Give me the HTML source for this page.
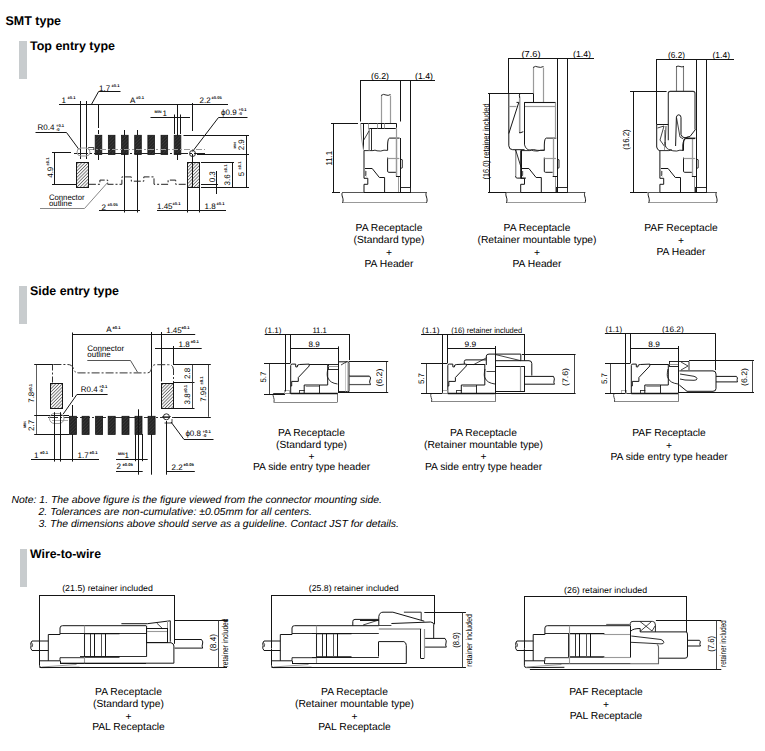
<!DOCTYPE html>
<html><head><meta charset="utf-8"><style>
html,body{margin:0;padding:0;background:#fff;width:765px;height:751px;overflow:hidden}
svg{display:block}
text{font-family:"Liberation Sans",sans-serif;text-rendering:geometricPrecision}
</style></head><body>
<svg width="765" height="751" viewBox="0 0 765 751">
<defs>
<pattern id="hatch" patternUnits="userSpaceOnUse" width="2.3" height="2.3" patternTransform="rotate(45)">
<rect width="2.3" height="2.3" fill="#f4f4f4"/><line x1="0" y1="0" x2="0" y2="2.3" stroke="#2a2a2a" stroke-width="1.05"/>
</pattern>
<pattern id="dark" patternUnits="userSpaceOnUse" width="2.4" height="2.4" patternTransform="rotate(45)">
<rect width="2.4" height="2.4" fill="#262626"/><line x1="0" y1="0" x2="0" y2="2.4" stroke="#4a4a4a" stroke-width="0.8"/>
</pattern>
</defs>
<rect x="19" y="41" width="8" height="38" fill="#c8ccce"/>
<rect x="19" y="286" width="8" height="38" fill="#c8ccce"/>
<rect x="20" y="549" width="7" height="38" fill="#c8ccce"/>
<text x="5.5" y="25.2" font-size="12.6" textLength="55.5" lengthAdjust="spacingAndGlyphs" font-weight="bold" fill="#000">SMT type</text>
<text x="30" y="50.3" font-size="12.5" textLength="85" lengthAdjust="spacingAndGlyphs" font-weight="bold" fill="#000">Top entry type</text>
<text x="30" y="295.2" font-size="12.5" textLength="89" lengthAdjust="spacingAndGlyphs" font-weight="bold" fill="#000">Side entry type</text>
<text x="30" y="558" font-size="12.5" textLength="71" lengthAdjust="spacingAndGlyphs" font-weight="bold" fill="#000">Wire-to-wire</text>
<line x1="59" y1="104.5" x2="228" y2="104.5" stroke="#151515" stroke-width="1"/>
<line x1="80.5" y1="101" x2="80.5" y2="159" stroke="#151515" stroke-width="1"/>
<line x1="86.5" y1="101" x2="86.5" y2="159" stroke="#151515" stroke-width="1"/>
<line x1="98.5" y1="104" x2="98.5" y2="128" stroke="#151515" stroke-width="1"/>
<line x1="98.5" y1="130" x2="98.5" y2="134" stroke="#151515" stroke-width="1"/>
<line x1="98.5" y1="155" x2="98.5" y2="160" stroke="#151515" stroke-width="1"/>
<line x1="177.5" y1="104" x2="177.5" y2="160" stroke="#151515" stroke-width="1"/>
<line x1="192.5" y1="103" x2="192.5" y2="131" stroke="#151515" stroke-width="1"/>
<polyline points="91.4,104.5 98.6,91.5 120.5,91.5" fill="none" stroke="#151515" stroke-width="1"/>
<line x1="150.5" y1="117.5" x2="190" y2="117.5" stroke="#151515" stroke-width="1"/>
<line x1="174.5" y1="114.5" x2="174.5" y2="134" stroke="#151515" stroke-width="1"/>
<line x1="180.5" y1="114.5" x2="180.5" y2="134" stroke="#151515" stroke-width="1"/>
<polyline points="247.5,117.5 218.5,117.5 192.5,151.5" fill="none" stroke="#151515" stroke-width="1"/>
<polyline points="35.5,132.5 66.5,132.5 79,149.5" fill="none" stroke="#151515" stroke-width="1"/>
<rect x="95.20" y="135.3" width="6.6" height="19.2" fill="url(#dark)" stroke="#151515" stroke-width="0.8"/>
<rect x="108.37" y="135.3" width="6.6" height="19.2" fill="url(#dark)" stroke="#151515" stroke-width="0.8"/>
<rect x="121.54" y="135.3" width="6.6" height="19.2" fill="url(#dark)" stroke="#151515" stroke-width="0.8"/>
<rect x="134.71" y="135.3" width="6.6" height="19.2" fill="url(#dark)" stroke="#151515" stroke-width="0.8"/>
<rect x="147.88" y="135.3" width="6.6" height="19.2" fill="url(#dark)" stroke="#151515" stroke-width="0.8"/>
<rect x="161.05" y="135.3" width="6.6" height="19.2" fill="url(#dark)" stroke="#151515" stroke-width="0.8"/>
<rect x="174.22" y="135.3" width="6.6" height="19.2" fill="url(#dark)" stroke="#151515" stroke-width="0.8"/>
<line x1="124.5" y1="130" x2="124.5" y2="135" stroke="#151515" stroke-width="1"/>
<line x1="137.5" y1="130" x2="137.5" y2="135" stroke="#151515" stroke-width="1"/>
<line x1="124.5" y1="154" x2="124.5" y2="212.5" stroke="#151515" stroke-width="1"/>
<line x1="137.5" y1="154" x2="137.5" y2="212.5" stroke="#151515" stroke-width="1"/>
<line x1="74" y1="153.5" x2="205" y2="153.5" stroke="#222" stroke-width="1" stroke-dasharray="14,2,2,2"/>
<line x1="88" y1="149.5" x2="205" y2="149.5" stroke="#9a9a9a" stroke-width="1" stroke-dasharray="6,2,2,2"/>
<polyline points="88.2,147.5 93.8,147.5 93.8,150" fill="none" stroke="#151515" stroke-width="0.8"/>
<path d="M81,148 L86,148 A4,4 0 0 1 86,156 L81,156 A4,4 0 0 1 81,148 Z" fill="none" stroke="#9a9a9a" stroke-width="1"/>
<line x1="52" y1="152.5" x2="71" y2="152.5" stroke="#151515" stroke-width="1"/>
<line x1="52" y1="184.5" x2="76" y2="184.5" stroke="#151515" stroke-width="1"/>
<line x1="54.5" y1="153" x2="54.5" y2="184" stroke="#151515" stroke-width="1"/>
<rect x="76.5" y="162.5" width="12.0" height="25.0" fill="url(#hatch)" stroke="#151515" stroke-width="1"/>
<rect x="187.5" y="162.5" width="12.0" height="25.0" fill="url(#hatch)" stroke="#151515" stroke-width="1"/>
<line x1="192.5" y1="154" x2="192.5" y2="187" stroke="#151515" stroke-width="1"/>
<circle cx="192.5" cy="153.5" r="3" fill="none" stroke="#151515" stroke-width="0.9"/>
<line x1="187.5" y1="188" x2="187.5" y2="212.5" stroke="#151515" stroke-width="1"/>
<line x1="199.5" y1="188" x2="199.5" y2="212.5" stroke="#151515" stroke-width="1"/>
<line x1="183.5" y1="135.5" x2="249" y2="135.5" stroke="#151515" stroke-width="1"/>
<line x1="197" y1="154.5" x2="249" y2="154.5" stroke="#151515" stroke-width="1"/>
<line x1="201" y1="162.5" x2="234" y2="162.5" stroke="#151515" stroke-width="1"/>
<line x1="201" y1="184.5" x2="218" y2="184.5" stroke="#151515" stroke-width="1"/>
<line x1="201" y1="187.5" x2="249" y2="187.5" stroke="#151515" stroke-width="1"/>
<line x1="246.5" y1="135" x2="246.5" y2="188" stroke="#151515" stroke-width="1"/>
<line x1="232.5" y1="162" x2="232.5" y2="188" stroke="#151515" stroke-width="1"/>
<line x1="216.5" y1="171" x2="216.5" y2="194" stroke="#151515" stroke-width="1"/>
<polyline points="88.9,184.3 99.9,184.3 99.9,180.1 107.7,180.1 107.7,184.3 121.9,184.3 121.9,176.9 131.3,176.9 131.3,181.2 143.8,181.2 143.8,176.9 154,176.9 154,184.3 168.1,184.3 168.1,180.1 175.7,180.1 175.7,184.3 187.5,184.3" fill="none" stroke="#222" stroke-width="1" stroke-dasharray="7,2,2,2"/>
<polyline points="40,208.5 84.5,208.5 107.8,182.3" fill="none" stroke="#888" stroke-width="1"/>
<line x1="99" y1="210.5" x2="140" y2="210.5" stroke="#151515" stroke-width="1"/>
<line x1="157" y1="210.5" x2="226" y2="210.5" stroke="#151515" stroke-width="1"/>
<text x="61.5" y="102.7" font-size="8.0" fill="#000">1</text>
<text x="67.5" y="98.5" font-size="4.1" font-weight="bold" fill="#000">±0.1</text>
<text x="99" y="91" font-size="8.0" fill="#000">1.7</text>
<text x="111.5" y="87" font-size="4.1" font-weight="bold" fill="#000">±0.1</text>
<text x="130" y="102.5" font-size="8.0" fill="#000">A</text>
<text x="136" y="98.5" font-size="4.1" font-weight="bold" fill="#000">±0.1</text>
<text x="199.5" y="103" font-size="8.0" fill="#000">2.2</text>
<text x="211.5" y="99" font-size="4.1" font-weight="bold" fill="#000">±0.05</text>
<text x="154.5" y="113" font-size="3.8" font-weight="bold" fill="#000">MIN</text>
<text x="162.5" y="116" font-size="8.0" fill="#000">1</text>
<text x="221" y="114.8" font-size="8.0" fill="#000">ϕ0.9</text>
<text x="238.5" y="111" font-size="4.1" font-weight="bold" fill="#000">+0.1</text>
<text x="238.5" y="115" font-size="4.1" font-weight="bold" fill="#000">-0</text>
<text x="37.5" y="130.3" font-size="8.0" fill="#000">R0.4</text>
<text x="56" y="127" font-size="4.1" font-weight="bold" fill="#000">+0.1</text>
<text x="56" y="131" font-size="4.1" font-weight="bold" fill="#000">-0</text>
<text x="52.6" y="177.8" font-size="8.0" transform="rotate(-90 52.6 177.8)" fill="#000">4.9</text>
<text x="49.2" y="165.5" font-size="4.1" transform="rotate(-90 49.2 165.5)" font-weight="bold" fill="#000">±0.1</text>
<text x="243.8" y="150.3" font-size="8.0" transform="rotate(-90 243.8 150.3)" fill="#000">2.9</text>
<text x="235.6" y="148.5" font-size="3.4" transform="rotate(-90 235.6 148.5)" font-weight="bold" fill="#000">MIN</text>
<text x="215.2" y="182.3" font-size="8.0" transform="rotate(-90 215.2 182.3)" fill="#000">0.3</text>
<text x="230.3" y="185.5" font-size="8.0" transform="rotate(-90 230.3 185.5)" fill="#000">3.6</text>
<text x="227.2" y="172.5" font-size="4.1" transform="rotate(-90 227.2 172.5)" font-weight="bold" fill="#000">±0.1</text>
<text x="244.2" y="176.3" font-size="8.0" transform="rotate(-90 244.2 176.3)" fill="#000">5</text>
<text x="241" y="169.5" font-size="4.1" transform="rotate(-90 241 169.5)" font-weight="bold" fill="#000">±0.1</text>
<text x="49" y="199.8" font-size="8" textLength="35.5" lengthAdjust="spacingAndGlyphs" fill="#000">Connector</text>
<text x="49" y="206.3" font-size="8" textLength="23" lengthAdjust="spacingAndGlyphs" fill="#000">outline</text>
<text x="101.5" y="209.8" font-size="8.0" fill="#000">2</text>
<text x="107.5" y="206" font-size="4.1" font-weight="bold" fill="#000">±0.05</text>
<text x="157" y="208.8" font-size="8.0" fill="#000">1.45</text>
<text x="172.5" y="205" font-size="4.1" font-weight="bold" fill="#000">±0.1</text>
<text x="204.5" y="208.8" font-size="8.0" fill="#000">1.8</text>
<text x="216.5" y="205" font-size="4.1" font-weight="bold" fill="#000">±0.1</text>
<line x1="342.5" y1="192.5" x2="426.5" y2="192.5" stroke="#555" stroke-width="1"/>
<line x1="342.5" y1="202.5" x2="426.5" y2="202.5" stroke="#999" stroke-width="1.2"/>
<path d="M342.5,192.4 C340.5,195.4 344.5,198.4 342.5,202.8" fill="none" stroke="#151515" stroke-width="1"/>
<path d="M426.5,192.4 C424.5,195.4 428.5,198.4 426.5,202.8" fill="none" stroke="#151515" stroke-width="1"/>
<polyline points="364.0,150.6 364.0,178.3 367.8,178.3 367.8,184.3 364.0,184.3 364.0,192.2" fill="none" stroke="#151515" stroke-width="1"/>
<path d="M364.0,150.6 L373.0,150.6 Q375.0,149.6 377.0,150.8 Q381.0,151.6 384.0,150.2 L387.6,150.4" fill="none" stroke="#151515" stroke-width="0.9"/>
<polyline points="365.0,168.5 372.2,168.5 379.4,177.5 384.6,177.5 384.6,192" fill="none" stroke="#151515" stroke-width="1"/>
<polyline points="365.0,171 366.5,172 365.0,173 366.5,174 365.0,175 366.5,176" fill="none" stroke="#151515" stroke-width="0.7"/>
<path d="M387.6,157.6 L387.6,171.2 Q387.6,172.3 388.8,172.3 L396.0,172.3" fill="none" stroke="#151515" stroke-width="1"/>
<line x1="387.6" y1="158.5" x2="399.3" y2="158.5" stroke="#9a9a9a" stroke-width="1.2"/>
<path d="M387.6,150.4 L387.6,145 Q387.8,138.1 389.6,138.1 L399.6,138.1" fill="none" stroke="#151515" stroke-width="1"/>
<line x1="396.5" y1="138" x2="396.5" y2="176.7" stroke="#9a9a9a" stroke-width="1.3"/>
<line x1="400.5" y1="138" x2="400.5" y2="192" stroke="#151515" stroke-width="1"/>
<line x1="396.0" y1="176.5" x2="400.3" y2="176.5" stroke="#151515" stroke-width="1"/>
<line x1="398.5" y1="177" x2="398.5" y2="192" stroke="#9a9a9a" stroke-width="1"/>
<path d="M400.8,159.2 L402.3,159.8 L402.3,167.8 L400.8,168.4" fill="none" stroke="#151515" stroke-width="0.9"/>
<rect x="400.5" y="187.5" width="10.0" height="5.0" fill="none" stroke="#151515" stroke-width="0.9"/>
<line x1="364.0" y1="192.5" x2="410.3" y2="192.5" stroke="#151515" stroke-width="1.2"/>
<line x1="381.5" y1="95.5" x2="381.5" y2="123.5" stroke="#9a9a9a" stroke-width="1.2"/>
<line x1="390.5" y1="95.5" x2="390.5" y2="123.5" stroke="#9a9a9a" stroke-width="1.2"/>
<path d="M381,95.5 Q383.5,93.5 386,95 Q388,96 390.5,94.5" fill="none" stroke="#151515" stroke-width="0.9"/>
<path d="M360.6,123.5 L396.5,123.5 L396.5,127.5 Q396.5,128.5 395.5,128.5 L368.5,128.5" fill="none" stroke="#151515" stroke-width="1"/>
<line x1="363.5" y1="123.5" x2="363.5" y2="149" stroke="#151515" stroke-width="1"/>
<line x1="368.5" y1="123.5" x2="368.5" y2="128.5" stroke="#9a9a9a" stroke-width="1"/>
<line x1="377.5" y1="123.5" x2="377.5" y2="128.5" stroke="#9a9a9a" stroke-width="1"/>
<line x1="384.5" y1="123.5" x2="384.5" y2="128.5" stroke="#9a9a9a" stroke-width="1"/>
<line x1="381.5" y1="123.5" x2="381.5" y2="128.5" stroke="#151515" stroke-width="1"/>
<line x1="369.2" y1="128.5" x2="369.2" y2="150.4" stroke="#9a9a9a" stroke-width="1.6"/>
<line x1="371.5" y1="128.5" x2="371.5" y2="150.4" stroke="#151515" stroke-width="0.9"/>
<line x1="396.5" y1="128.5" x2="396.5" y2="176" stroke="#9a9a9a" stroke-width="1.2"/>
<polyline points="360.6,123.5 361.5,138 363.6,150.6" fill="none" stroke="#9a9a9a" stroke-width="1"/>
<polyline points="369,131 363.2,141" fill="none" stroke="#151515" stroke-width="0.8"/>
<line x1="360" y1="80.5" x2="435" y2="80.5" stroke="#151515" stroke-width="1"/>
<line x1="360.5" y1="80" x2="360.5" y2="121.5" stroke="#151515" stroke-width="1"/>
<line x1="400.5" y1="80" x2="400.5" y2="121.5" stroke="#151515" stroke-width="1"/>
<line x1="410.5" y1="80" x2="410.5" y2="187.5" stroke="#151515" stroke-width="1"/>
<line x1="333.5" y1="123.5" x2="333.5" y2="192.4" stroke="#151515" stroke-width="1"/>
<line x1="331" y1="123.5" x2="358" y2="123.5" stroke="#151515" stroke-width="1"/>
<line x1="332" y1="192.5" x2="340" y2="192.5" stroke="#151515" stroke-width="1"/>
<text x="371" y="78.6" font-size="8.6" textLength="18" lengthAdjust="spacingAndGlyphs" fill="#000">(6.2)</text>
<text x="415" y="78.6" font-size="8.6" textLength="18" lengthAdjust="spacingAndGlyphs" fill="#000">(1.4)</text>
<text x="332.3" y="158.3" font-size="8.6" text-anchor="middle" textLength="14.5" lengthAdjust="spacingAndGlyphs" transform="rotate(-90 332.3 158.3)" fill="#000">11.1</text>
<line x1="506.4" y1="192.5" x2="585" y2="192.5" stroke="#555" stroke-width="1"/>
<line x1="506.4" y1="202.5" x2="585" y2="202.5" stroke="#999" stroke-width="1.2"/>
<path d="M506.4,192.4 C504.4,195.4 508.4,198.4 506.4,202.8" fill="none" stroke="#151515" stroke-width="1"/>
<path d="M585,192.4 C583,195.4 587,198.4 585,202.8" fill="none" stroke="#151515" stroke-width="1"/>
<polyline points="520.7,150.6 520.7,178.3 524.5,178.3 524.5,184.3 520.7,184.3 520.7,192.2" fill="none" stroke="#151515" stroke-width="1"/>
<path d="M520.7,150.6 L529.7,150.6 Q531.7,149.6 533.7,150.8 Q537.7,151.6 540.7,150.2 L544.3,150.4" fill="none" stroke="#151515" stroke-width="0.9"/>
<polyline points="521.7,168.5 528.9000000000001,168.5 536.1,177.5 541.3000000000001,177.5 541.3000000000001,192" fill="none" stroke="#151515" stroke-width="1"/>
<polyline points="521.7,171 523.2,172 521.7,173 523.2,174 521.7,175 523.2,176" fill="none" stroke="#151515" stroke-width="0.7"/>
<path d="M544.3,157.6 L544.3,171.2 Q544.3,172.3 545.5,172.3 L552.7,172.3" fill="none" stroke="#151515" stroke-width="1"/>
<line x1="544.3" y1="158.5" x2="556" y2="158.5" stroke="#9a9a9a" stroke-width="1.2"/>
<path d="M544.3,150.4 L544.3,145 Q544.5,138.1 546.3,138.1 L556.3,138.1" fill="none" stroke="#151515" stroke-width="1"/>
<line x1="553.5" y1="138" x2="553.5" y2="176.7" stroke="#9a9a9a" stroke-width="1.3"/>
<line x1="557.5" y1="138" x2="557.5" y2="192" stroke="#151515" stroke-width="1"/>
<line x1="552.7" y1="176.5" x2="557" y2="176.5" stroke="#151515" stroke-width="1"/>
<line x1="555.5" y1="177" x2="555.5" y2="192" stroke="#9a9a9a" stroke-width="1"/>
<path d="M557.5,159.2 L559,159.8 L559,167.8 L557.5,168.4" fill="none" stroke="#151515" stroke-width="0.9"/>
<rect x="556.5" y="187.5" width="11.0" height="5.0" fill="none" stroke="#151515" stroke-width="0.9"/>
<line x1="520.7" y1="192.5" x2="567" y2="192.5" stroke="#151515" stroke-width="1.2"/>
<line x1="533.5" y1="93.4" x2="533.5" y2="102.4" stroke="#151515" stroke-width="1"/>
<line x1="543.5" y1="67.5" x2="543.5" y2="102.4" stroke="#9a9a9a" stroke-width="1.2"/>
<line x1="533.5" y1="67.5" x2="533.5" y2="93.4" stroke="#9a9a9a" stroke-width="1.2"/>
<path d="M533,67.5 Q535.5,65.5 538,67 Q540.5,68 543.5,66.5" fill="none" stroke="#151515" stroke-width="0.9"/>
<line x1="524.2" y1="102.5" x2="555.8" y2="102.5" stroke="#151515" stroke-width="1.1"/>
<line x1="524.5" y1="106.5" x2="555" y2="106.5" stroke="#9a9a9a" stroke-width="1.2"/>
<line x1="524.5" y1="102.4" x2="524.5" y2="144.8" stroke="#151515" stroke-width="1"/>
<line x1="555.5" y1="102.4" x2="555.5" y2="137.5" stroke="#9a9a9a" stroke-width="1.2"/>
<path d="M524.5,144.8 Q526,150 530,150 Q534,149 537,150.3 Q541,150.8 544.5,150" fill="none" stroke="#151515" stroke-width="0.9"/>
<path d="M508.8,93.4 L508.8,145.8 Q509,149.7 512.7,149.7 L524.5,149.7" fill="none" stroke="#151515" stroke-width="1"/>
<path d="M520,93.6 Q518.8,95 519.7,97 L519.7,133 L523.3,131.7" fill="none" stroke="#151515" stroke-width="1"/>
<line x1="519.5" y1="98" x2="519.5" y2="132" stroke="#9a9a9a" stroke-width="1.2"/>
<polyline points="518.8,102.4 508.8,133.5" fill="none" stroke="#151515" stroke-width="1"/>
<polyline points="516.5,102.4 518.8,102.4" fill="none" stroke="#151515" stroke-width="1"/>
<line x1="508.8" y1="106.5" x2="516.5" y2="106.5" stroke="#9a9a9a" stroke-width="1.2"/>
<path d="M515.7,150 L515.7,177 Q516,178.1 517.2,178.1 L526,178.1" fill="none" stroke="#151515" stroke-width="1"/>
<line x1="515.5" y1="151" x2="515.5" y2="176" stroke="#9a9a9a" stroke-width="1"/>
<polyline points="515.7,150 521.1,167.4" fill="none" stroke="#151515" stroke-width="0.9"/>
<line x1="521.5" y1="150" x2="521.5" y2="178" stroke="#151515" stroke-width="1"/>
<line x1="508.5" y1="58" x2="508.5" y2="93.4" stroke="#151515" stroke-width="1"/>
<line x1="557.5" y1="58" x2="557.5" y2="138" stroke="#151515" stroke-width="1"/>
<line x1="567.5" y1="58" x2="567.5" y2="187.7" stroke="#151515" stroke-width="1"/>
<line x1="508" y1="58.5" x2="594" y2="58.5" stroke="#151515" stroke-width="1"/>
<line x1="489.5" y1="93.3" x2="489.5" y2="192.3" stroke="#151515" stroke-width="1"/>
<line x1="488" y1="93.5" x2="533.4" y2="93.5" stroke="#151515" stroke-width="1"/>
<line x1="488" y1="192.5" x2="506" y2="192.5" stroke="#151515" stroke-width="1"/>
<text x="521.5" y="56.6" font-size="8.6" textLength="19" lengthAdjust="spacingAndGlyphs" fill="#000">(7.6)</text>
<text x="573" y="56.6" font-size="8.6" textLength="18" lengthAdjust="spacingAndGlyphs" fill="#000">(1.4)</text>
<text x="488.5" y="141.5" font-size="8.6" text-anchor="middle" textLength="76" lengthAdjust="spacingAndGlyphs" transform="rotate(-90 488.5 141.5)" fill="#000">(16.0) retainer included</text>
<line x1="648.7" y1="192.5" x2="716.5" y2="192.5" stroke="#555" stroke-width="1"/>
<line x1="648.7" y1="202.5" x2="716.5" y2="202.5" stroke="#999" stroke-width="1.2"/>
<path d="M648.7,192.4 C646.7,195.4 650.7,198.4 648.7,202.8" fill="none" stroke="#151515" stroke-width="1"/>
<path d="M716.5,192.4 C714.5,195.4 718.5,198.4 716.5,202.8" fill="none" stroke="#151515" stroke-width="1"/>
<polyline points="659.9000000000001,150.6 659.9000000000001,178.3 663.7,178.3 663.7,184.3 659.9000000000001,184.3 659.9000000000001,192.2" fill="none" stroke="#151515" stroke-width="1"/>
<path d="M659.9000000000001,150.6 L668.9000000000001,150.6 Q670.9000000000001,149.6 672.9000000000001,150.8 Q676.9000000000001,151.6 679.9000000000001,150.2 L683.5,150.4" fill="none" stroke="#151515" stroke-width="0.9"/>
<polyline points="660.9000000000001,168.5 668.1000000000001,168.5 675.3000000000001,177.5 680.5000000000001,177.5 680.5000000000001,192" fill="none" stroke="#151515" stroke-width="1"/>
<polyline points="660.9000000000001,171 662.4000000000001,172 660.9000000000001,173 662.4000000000001,174 660.9000000000001,175 662.4000000000001,176" fill="none" stroke="#151515" stroke-width="0.7"/>
<path d="M683.5,157.6 L683.5,171.2 Q683.5,172.3 684.7,172.3 L691.9000000000001,172.3" fill="none" stroke="#151515" stroke-width="1"/>
<line x1="683.5" y1="158.5" x2="695.2" y2="158.5" stroke="#9a9a9a" stroke-width="1.2"/>
<path d="M683.5,150.4 L683.5,145 Q683.7,138.1 685.5,138.1 L695.5,138.1" fill="none" stroke="#151515" stroke-width="1"/>
<line x1="692.5" y1="138" x2="692.5" y2="176.7" stroke="#9a9a9a" stroke-width="1.3"/>
<line x1="696.5" y1="138" x2="696.5" y2="192" stroke="#151515" stroke-width="1"/>
<line x1="691.9000000000001" y1="176.5" x2="696.2" y2="176.5" stroke="#151515" stroke-width="1"/>
<line x1="694.5" y1="177" x2="694.5" y2="192" stroke="#9a9a9a" stroke-width="1"/>
<path d="M696.7,159.2 L698.2,159.8 L698.2,167.8 L696.7,168.4" fill="none" stroke="#151515" stroke-width="0.9"/>
<rect x="695.5" y="187.5" width="11.0" height="5.0" fill="none" stroke="#151515" stroke-width="0.9"/>
<line x1="659.9000000000001" y1="192.5" x2="706.2" y2="192.5" stroke="#151515" stroke-width="1.2"/>
<line x1="676.5" y1="66.6" x2="676.5" y2="91.4" stroke="#777" stroke-width="1.1"/>
<line x1="683.5" y1="66.6" x2="683.5" y2="91.4" stroke="#777" stroke-width="1.1"/>
<path d="M676,66.8 Q678,65.5 680,66.5 Q682,67.5 684,66.3" fill="none" stroke="#151515" stroke-width="0.9"/>
<path d="M668.3,140.2 L668.3,93.4 Q668.3,91.4 670.3,91.4 L693,91.4 Q695,91.4 695,93.4 L695,129.6" fill="none" stroke="#333" stroke-width="1.1"/>
<path d="M675.6,146 L676.4,117 Q677,114.8 678.8,114.8 Q681,115 681,117.5 L681,134.5 Q682,137.8 685,137.8 L690,136.5 L695.5,129.4" fill="none" stroke="#151515" stroke-width="1"/>
<path d="M676.6,118 L680,137 L683.3,139" fill="none" stroke="#151515" stroke-width="0.8"/>
<path d="M686,138.6 L688.2,136.4" fill="none" stroke="#151515" stroke-width="0.9"/>
<path d="M682.8,150.9 L682.8,145 Q683.5,138.6 686,138.6 L695,138.6" fill="none" stroke="#151515" stroke-width="1"/>
<line x1="656.5" y1="124.5" x2="668.3" y2="124.5" stroke="#151515" stroke-width="1"/>
<path d="M656.7,124.5 L656.7,147 Q657,149.8 659.9,150.9" fill="none" stroke="#151515" stroke-width="1"/>
<polyline points="657.5,128 664,126 660,140 665,147 666,126" fill="none" stroke="#151515" stroke-width="0.8"/>
<polyline points="664.5,130 664.5,150" fill="none" stroke="#9a9a9a" stroke-width="1"/>
<path d="M665,142 Q664.5,150 672,150" fill="none" stroke="#151515" stroke-width="0.8"/>
<line x1="656.5" y1="59" x2="656.5" y2="124.3" stroke="#151515" stroke-width="1"/>
<line x1="696.5" y1="59" x2="696.5" y2="138" stroke="#151515" stroke-width="1"/>
<line x1="706.5" y1="59" x2="706.5" y2="188.7" stroke="#151515" stroke-width="1"/>
<line x1="656" y1="59.5" x2="734" y2="59.5" stroke="#151515" stroke-width="1"/>
<line x1="633.5" y1="91.6" x2="633.5" y2="192.3" stroke="#151515" stroke-width="1"/>
<line x1="630" y1="91.5" x2="666.6" y2="91.5" stroke="#151515" stroke-width="1"/>
<line x1="630" y1="192.5" x2="647.6" y2="192.5" stroke="#151515" stroke-width="1"/>
<text x="668" y="57.7" font-size="8.6" textLength="17" lengthAdjust="spacingAndGlyphs" fill="#000">(6.2)</text>
<text x="712.5" y="57.7" font-size="8.6" textLength="17.5" lengthAdjust="spacingAndGlyphs" fill="#000">(1.4)</text>
<text x="629.5" y="139.6" font-size="8.6" text-anchor="middle" textLength="20.5" lengthAdjust="spacingAndGlyphs" transform="rotate(-90 629.5 139.6)" fill="#000">(16.2)</text>
<line x1="72" y1="334.5" x2="195.2" y2="334.5" stroke="#151515" stroke-width="1"/>
<line x1="72.5" y1="332.5" x2="72.5" y2="397" stroke="#151515" stroke-width="1"/>
<line x1="72.5" y1="405" x2="72.5" y2="461.6" stroke="#151515" stroke-width="1"/>
<line x1="151.5" y1="332" x2="151.5" y2="474.7" stroke="#151515" stroke-width="1"/>
<line x1="161.5" y1="332" x2="161.5" y2="381.4" stroke="#151515" stroke-width="1"/>
<line x1="155" y1="348.5" x2="201.7" y2="348.5" stroke="#151515" stroke-width="1"/>
<line x1="173.5" y1="346" x2="173.5" y2="364.5" stroke="#151515" stroke-width="1"/>
<line x1="34.2" y1="364.5" x2="53.4" y2="364.5" stroke="#151515" stroke-width="1"/>
<path d="M53.4,364.5 L67.5,364.5 Q72.5,364.5 73.5,369 Q74.5,372.9 79,372.9 L147,372.9 Q151,372.9 151.5,368 Q152,364.7 156,364.7 L168.5,364.7 Q173.3,364.7 173.3,369" fill="none" stroke="#333" stroke-width="1" stroke-dasharray="8,2,2,2"/>
<line x1="173.5" y1="369" x2="173.5" y2="383" stroke="#333" stroke-width="1" stroke-dasharray="6,2,2,2"/>
<line x1="52.5" y1="364.5" x2="52.5" y2="383" stroke="#333" stroke-width="1" stroke-dasharray="6,2,2,2"/>
<line x1="36.5" y1="364.5" x2="36.5" y2="434.1" stroke="#333" stroke-width="0.8"/>
<line x1="34.2" y1="415.5" x2="69" y2="415.5" stroke="#151515" stroke-width="1"/>
<line x1="34.2" y1="434.5" x2="69" y2="434.5" stroke="#151515" stroke-width="1"/>
<rect x="50.5" y="383.5" width="12.0" height="25.0" fill="url(#hatch)" stroke="#151515" stroke-width="1"/>
<rect x="161.5" y="383.5" width="12.0" height="25.0" fill="url(#hatch)" stroke="#151515" stroke-width="1"/>
<line x1="173" y1="364.5" x2="210.8" y2="364.5" stroke="#151515" stroke-width="1"/>
<line x1="173" y1="382.5" x2="194.5" y2="382.5" stroke="#151515" stroke-width="1"/>
<line x1="173" y1="408.5" x2="194.5" y2="408.5" stroke="#151515" stroke-width="1"/>
<line x1="192.5" y1="364.7" x2="192.5" y2="408.3" stroke="#333" stroke-width="0.9"/>
<line x1="208.5" y1="364.7" x2="208.5" y2="416.8" stroke="#333" stroke-width="0.9"/>
<line x1="174" y1="417.5" x2="210.8" y2="417.5" stroke="#151515" stroke-width="1"/>
<line x1="48" y1="417.5" x2="174" y2="417.5" stroke="#333" stroke-width="1" stroke-dasharray="10,2,2,2"/>
<rect x="69.4" y="416.3" width="7" height="18.1" fill="url(#dark)" stroke="#151515" stroke-width="0.8"/>
<rect x="82.1" y="416.3" width="7" height="18.1" fill="url(#dark)" stroke="#151515" stroke-width="0.8"/>
<rect x="95.6" y="416.3" width="7" height="18.1" fill="url(#dark)" stroke="#151515" stroke-width="0.8"/>
<rect x="108.2" y="416.3" width="7" height="18.1" fill="url(#dark)" stroke="#151515" stroke-width="0.8"/>
<rect x="122" y="416.3" width="7" height="18.1" fill="url(#dark)" stroke="#151515" stroke-width="0.8"/>
<rect x="135" y="416.3" width="7" height="18.1" fill="url(#dark)" stroke="#151515" stroke-width="0.8"/>
<rect x="148.1" y="416.3" width="7" height="18.1" fill="url(#dark)" stroke="#151515" stroke-width="0.8"/>
<path d="M54.5,413.5 L59,413.5 A5,5 0 0 1 59,423.5 L54.5,423.5 A5,5 0 0 1 54.5,413.5 Z" fill="none" stroke="#9a9a9a" stroke-width="1"/>
<line x1="52" y1="420.5" x2="68" y2="420.5" stroke="#9a9a9a" stroke-width="0.8"/>
<circle cx="166.4" cy="416.8" r="3" fill="none" stroke="#151515" stroke-width="0.9"/>
<line x1="162" y1="416.5" x2="171" y2="416.5" stroke="#151515" stroke-width="0.6"/>
<polyline points="164.5,423 172,423 172,419" fill="none" stroke="#151515" stroke-width="0.8"/>
<line x1="54.5" y1="412.2" x2="54.5" y2="461.6" stroke="#151515" stroke-width="1"/>
<line x1="60.5" y1="412.2" x2="60.5" y2="461.6" stroke="#151515" stroke-width="1"/>
<line x1="135.5" y1="434" x2="135.5" y2="461.2" stroke="#151515" stroke-width="1"/>
<line x1="142.5" y1="434" x2="142.5" y2="461.2" stroke="#151515" stroke-width="1"/>
<line x1="138.5" y1="409.3" x2="138.5" y2="474.7" stroke="#151515" stroke-width="1"/>
<line x1="166.5" y1="421" x2="166.5" y2="474.7" stroke="#151515" stroke-width="1"/>
<line x1="31" y1="459.5" x2="99" y2="459.5" stroke="#151515" stroke-width="1"/>
<line x1="116" y1="459.5" x2="147.7" y2="459.5" stroke="#151515" stroke-width="1"/>
<line x1="116" y1="471.5" x2="142.7" y2="471.5" stroke="#151515" stroke-width="1"/>
<line x1="167" y1="471.5" x2="194.8" y2="471.5" stroke="#151515" stroke-width="1"/>
<polyline points="63.1,414.2 76.9,394.5 107.6,394.5" fill="none" stroke="#151515" stroke-width="1"/>
<polyline points="171,422 184,439.5 213.5,439.5" fill="none" stroke="#151515" stroke-width="1"/>
<polyline points="87.3,360.5 130.5,360.5 137.6,372.3" fill="none" stroke="#555" stroke-width="1"/>
<text x="106.3" y="332.4" font-size="8.0" fill="#000">A</text>
<text x="112.5" y="328.5" font-size="4.2" font-weight="bold" fill="#000">±0.1</text>
<text x="166.2" y="332.8" font-size="8.0" fill="#000">1.45</text>
<text x="181.5" y="329" font-size="4.2" font-weight="bold" fill="#000">±0.1</text>
<text x="178.6" y="346.8" font-size="8.0" fill="#000">1.8</text>
<text x="190.8" y="343" font-size="4.2" font-weight="bold" fill="#000">±0.1</text>
<text x="87.3" y="350.7" font-size="8" textLength="36.8" lengthAdjust="spacingAndGlyphs" fill="#000">Connector</text>
<text x="87.3" y="357.3" font-size="8" textLength="23.4" lengthAdjust="spacingAndGlyphs" fill="#000">outline</text>
<text x="80.8" y="391.6" font-size="8.0" fill="#000">R0.4</text>
<text x="99" y="388" font-size="4.2" font-weight="bold" fill="#000">+0.1</text>
<text x="99" y="392" font-size="4.2" font-weight="bold" fill="#000">-0</text>
<text x="185.4" y="436.4" font-size="8.0" fill="#000">ϕ0.8</text>
<text x="202.5" y="432.5" font-size="4.2" font-weight="bold" fill="#000">+0.1</text>
<text x="202.5" y="436.5" font-size="4.2" font-weight="bold" fill="#000">-0</text>
<text x="34" y="457.7" font-size="8.0" fill="#000">1</text>
<text x="40" y="453.8" font-size="4.2" font-weight="bold" fill="#000">±0.1</text>
<text x="77.5" y="457.7" font-size="8.0" fill="#000">1.7</text>
<text x="89.5" y="453.8" font-size="4.2" font-weight="bold" fill="#000">±0.1</text>
<text x="118" y="454.5" font-size="3.6" font-weight="bold" fill="#000">MIN</text>
<text x="124.5" y="457.5" font-size="8.0" fill="#000">1</text>
<text x="116.5" y="469.3" font-size="8.0" fill="#000">2</text>
<text x="122.5" y="465.5" font-size="4.2" font-weight="bold" fill="#000">±0.05</text>
<text x="171.5" y="469.5" font-size="8.0" fill="#000">2.2</text>
<text x="183.5" y="465.5" font-size="4.2" font-weight="bold" fill="#000">±0.05</text>
<text x="34.4" y="402.8" font-size="8.0" transform="rotate(-90 34.4 402.8)" fill="#000">7.8</text>
<text x="31.5" y="392" font-size="4.2" transform="rotate(-90 31.5 392)" font-weight="bold" fill="#000">±0.1</text>
<text x="34.4" y="431" font-size="8.0" transform="rotate(-90 34.4 431)" fill="#000">2.7</text>
<text x="25.8" y="427.8" font-size="3.6" transform="rotate(-90 25.8 427.8)" font-weight="bold" fill="#000">MIN</text>
<text x="190" y="379" font-size="8.0" transform="rotate(-90 190 379)" fill="#000">2.8</text>
<text x="190" y="404.5" font-size="8.0" transform="rotate(-90 190 404.5)" fill="#000">3.8</text>
<text x="186.5" y="393" font-size="4.2" transform="rotate(-90 186.5 393)" font-weight="bold" fill="#000">±0.1</text>
<text x="206.5" y="401.8" font-size="8.0" transform="rotate(-90 206.5 401.8)" fill="#000">7.95</text>
<text x="203" y="384.5" font-size="4.2" transform="rotate(-90 203 384.5)" font-weight="bold" fill="#000">±0.1</text>
<line x1="273.5" y1="393.5" x2="337.5" y2="393.5" stroke="#333" stroke-width="1"/>
<line x1="273.5" y1="402.5" x2="337.5" y2="402.5" stroke="#888" stroke-width="1.2"/>
<path d="M273.5,393.2 C272.0,396.2 275.0,398.2 274.0,402" fill="none" stroke="#444" stroke-width="1"/>
<line x1="337.5" y1="393.2" x2="337.5" y2="402" stroke="#777" stroke-width="1"/>
<path d="M290.7,393 L290.7,365.5 Q290.7,364.1 292.2,364.1 L295.7,364.1 L295.7,366.8 L297.2,367 L297.7,365 L299.7,364.5 L309.2,364.1 L309.2,366" fill="none" stroke="#151515" stroke-width="1"/>
<polyline points="309.2,366 298.3,377.5 298.3,381.4 291.7,381.4 291.7,386 290.7,386" fill="none" stroke="#151515" stroke-width="1"/>
<line x1="290.7" y1="393.5" x2="337.7" y2="393.5" stroke="#151515" stroke-width="1.3"/>
<polyline points="304.2,393 304.2,385 327.7,385 327.7,364.1" fill="none" stroke="#151515" stroke-width="1"/>
<line x1="309.2" y1="364.5" x2="327.7" y2="364.5" stroke="#151515" stroke-width="1"/>
<line x1="305.7" y1="386.5" x2="319.7" y2="386.5" stroke="#9a9a9a" stroke-width="1"/>
<line x1="319.5" y1="385" x2="319.5" y2="393" stroke="#151515" stroke-width="0.9"/>
<line x1="299.5" y1="393" x2="299.5" y2="390" stroke="#151515" stroke-width="0.8"/>
<line x1="299.7" y1="390.5" x2="304.7" y2="390.5" stroke="#151515" stroke-width="0.8"/>
<path d="M327.7,369.3 Q326.5,376 328,378 Q330,383 337.5,384" fill="none" stroke="#151515" stroke-width="0.9"/>
<rect x="328.5" y="364.5" width="10.0" height="5.0" fill="none" stroke="#151515" stroke-width="0.9"/>
<line x1="328.4" y1="366.5" x2="338" y2="366.5" stroke="#9a9a9a" stroke-width="1"/>
<path d="M338.6,361.8 L348,361.8 Q349,361.8 349,363 L349,391.6 L338.6,391.6" fill="none" stroke="#151515" stroke-width="1"/>
<line x1="345.5" y1="362" x2="345.5" y2="391.5" stroke="#bbb" stroke-width="0.8"/>
<line x1="347.5" y1="362" x2="347.5" y2="391.5" stroke="#bbb" stroke-width="0.8"/>
<line x1="341" y1="365" x2="347" y2="361.5" stroke="#151515" stroke-width="0.8"/>
<path d="M349,376.1 L369.5,376.1 Q371.5,378 370,380 Q369,382 370.5,384.6 L349,384.6" fill="none" stroke="#151515" stroke-width="1"/>
<line x1="349" y1="376.5" x2="369.5" y2="376.5" stroke="#555" stroke-width="1.1"/>
<line x1="349" y1="384.5" x2="370.5" y2="384.5" stroke="#555" stroke-width="1.1"/>
<rect x="284.5" y="390.5" width="5.0" height="3.0" fill="none" stroke="#9a9a9a" stroke-width="0.8"/>
<line x1="264.7" y1="334.5" x2="349.6" y2="334.5" stroke="#151515" stroke-width="1"/>
<line x1="285.5" y1="334" x2="285.5" y2="391.5" stroke="#151515" stroke-width="1"/>
<line x1="290.5" y1="334" x2="290.5" y2="363" stroke="#151515" stroke-width="1"/>
<line x1="349.5" y1="334" x2="349.5" y2="360.1" stroke="#151515" stroke-width="1"/>
<line x1="290.5" y1="348.5" x2="338.6" y2="348.5" stroke="#151515" stroke-width="1"/>
<line x1="338.5" y1="346.4" x2="338.5" y2="392.5" stroke="#151515" stroke-width="1"/>
<line x1="269.5" y1="363" x2="269.5" y2="394.4" stroke="#333" stroke-width="0.9"/>
<line x1="264" y1="363.5" x2="290.5" y2="363.5" stroke="#151515" stroke-width="1"/>
<line x1="264" y1="394.5" x2="285" y2="394.5" stroke="#151515" stroke-width="1"/>
<line x1="386.5" y1="361.7" x2="386.5" y2="392.5" stroke="#333" stroke-width="0.9"/>
<line x1="349" y1="361.5" x2="388.2" y2="361.5" stroke="#151515" stroke-width="1"/>
<line x1="338" y1="392.5" x2="388.2" y2="392.5" stroke="#151515" stroke-width="1"/>
<text x="264.7" y="332.6" font-size="8.0" textLength="16.7" lengthAdjust="spacingAndGlyphs" fill="#000">(1.1)</text>
<text x="312.4" y="332.6" font-size="8.0" textLength="14.5" lengthAdjust="spacingAndGlyphs" fill="#000">11.1</text>
<text x="308.6" y="346.8" font-size="8.0" textLength="11.2" lengthAdjust="spacingAndGlyphs" fill="#000">8.9</text>
<text x="266" y="382.6" font-size="8.0" textLength="11" lengthAdjust="spacingAndGlyphs" transform="rotate(-90 266 382.6)" fill="#000">5.7</text>
<text x="382.2" y="386.6" font-size="8.0" textLength="18" lengthAdjust="spacingAndGlyphs" transform="rotate(-90 382.2 386.6)" fill="#000">(6.2)</text>
<line x1="431.1" y1="393.5" x2="495.5" y2="393.5" stroke="#333" stroke-width="1"/>
<line x1="431.1" y1="401.5" x2="495.5" y2="401.5" stroke="#888" stroke-width="1.2"/>
<path d="M431.1,393.3 C429.6,396.3 432.6,398.3 431.6,401.8" fill="none" stroke="#444" stroke-width="1"/>
<line x1="495.5" y1="393.3" x2="495.5" y2="401.8" stroke="#777" stroke-width="1"/>
<path d="M447.8,393 L447.8,365.5 Q447.8,364.1 449.3,364.1 L452.8,364.1 L452.8,366.8 L454.3,367 L454.8,365 L456.8,364.5 L466.3,364.1 L466.3,366" fill="none" stroke="#151515" stroke-width="1"/>
<polyline points="466.3,366 455.40000000000003,377.5 455.40000000000003,381.4 448.8,381.4 448.8,386 447.8,386" fill="none" stroke="#151515" stroke-width="1"/>
<line x1="447.8" y1="393.5" x2="494.8" y2="393.5" stroke="#151515" stroke-width="1.3"/>
<polyline points="461.3,393 461.3,385 484.8,385 484.8,364.1" fill="none" stroke="#151515" stroke-width="1"/>
<line x1="466.3" y1="364.5" x2="484.8" y2="364.5" stroke="#151515" stroke-width="1"/>
<line x1="462.8" y1="386.5" x2="476.8" y2="386.5" stroke="#9a9a9a" stroke-width="1"/>
<line x1="476.5" y1="385" x2="476.5" y2="393" stroke="#151515" stroke-width="0.9"/>
<line x1="456.5" y1="393" x2="456.5" y2="390" stroke="#151515" stroke-width="0.8"/>
<line x1="456.8" y1="390.5" x2="461.8" y2="390.5" stroke="#151515" stroke-width="0.8"/>
<path d="M485,369 Q483.5,376 485,378 Q487,383 495,384" fill="none" stroke="#151515" stroke-width="0.9"/>
<path d="M464.3,364 L464.3,361.5 Q464.3,359.9 466,359.9 L486.3,359.9" fill="none" stroke="#151515" stroke-width="1"/>
<path d="M486.3,365 L486.3,356 Q486.5,354.1 489,354.1 L520.8,354.1 L520.8,360.7" fill="none" stroke="#151515" stroke-width="1"/>
<line x1="473.7" y1="364.6" x2="487" y2="357.5" stroke="#151515" stroke-width="0.8"/>
<line x1="495.7" y1="354.6" x2="520.8" y2="360.7" stroke="#151515" stroke-width="0.8"/>
<path d="M495.7,360.7 L529,360.7 Q531.8,360.7 531.8,363.5 L531.8,375.6" fill="none" stroke="#151515" stroke-width="1"/>
<rect x="495.5" y="366.5" width="29.0" height="25.0" fill="none" stroke="#151515" stroke-width="1"/>
<line x1="520.5" y1="366.5" x2="520.5" y2="391" stroke="#9a9a9a" stroke-width="1.2"/>
<line x1="486.5" y1="371.5" x2="495.7" y2="371.5" stroke="#151515" stroke-width="0.8"/>
<path d="M524.7,376.4 L553.5,376.4 Q555,379 554,381 Q553.5,383 554.5,384.2 L524.7,384.2" fill="none" stroke="#151515" stroke-width="1"/>
<rect x="442.5" y="390.5" width="5.0" height="3.0" fill="none" stroke="#9a9a9a" stroke-width="0.8"/>
<line x1="421.1" y1="334.5" x2="525" y2="334.5" stroke="#151515" stroke-width="1"/>
<line x1="442.5" y1="334" x2="442.5" y2="392.8" stroke="#151515" stroke-width="1"/>
<line x1="447.5" y1="334" x2="447.5" y2="363" stroke="#151515" stroke-width="1"/>
<line x1="524.5" y1="334" x2="524.5" y2="360.7" stroke="#151515" stroke-width="1"/>
<line x1="447.3" y1="348.5" x2="495.6" y2="348.5" stroke="#151515" stroke-width="1"/>
<line x1="495.5" y1="346" x2="495.5" y2="393" stroke="#151515" stroke-width="1"/>
<line x1="426.5" y1="363.4" x2="426.5" y2="393.9" stroke="#333" stroke-width="0.9"/>
<line x1="421" y1="363.5" x2="447.5" y2="363.5" stroke="#151515" stroke-width="1"/>
<line x1="421" y1="393.5" x2="442" y2="393.5" stroke="#151515" stroke-width="1"/>
<line x1="574.5" y1="354.6" x2="574.5" y2="393.2" stroke="#333" stroke-width="0.9"/>
<line x1="522" y1="354.5" x2="575.6" y2="354.5" stroke="#151515" stroke-width="1"/>
<line x1="495" y1="393.5" x2="575.6" y2="393.5" stroke="#151515" stroke-width="1"/>
<text x="422" y="332.8" font-size="8.0" textLength="17.5" lengthAdjust="spacingAndGlyphs" fill="#000">(1.1)</text>
<text x="451.3" y="333.1" font-size="8.0" textLength="70.8" lengthAdjust="spacingAndGlyphs" fill="#000">(16) retainer included</text>
<text x="464.6" y="346.8" font-size="8.0" textLength="11.6" lengthAdjust="spacingAndGlyphs" fill="#000">9.9</text>
<text x="423.8" y="384" font-size="8.0" textLength="11" lengthAdjust="spacingAndGlyphs" transform="rotate(-90 423.8 384)" fill="#000">5.7</text>
<text x="568.2" y="386" font-size="8.0" textLength="18" lengthAdjust="spacingAndGlyphs" transform="rotate(-90 568.2 386)" fill="#000">(7.6)</text>
<line x1="614" y1="393.5" x2="678.4" y2="393.5" stroke="#333" stroke-width="1"/>
<line x1="614" y1="401.5" x2="678.4" y2="401.5" stroke="#888" stroke-width="1.2"/>
<path d="M614,393.5 C612.5,396.5 615.5,398.5 614.5,401.7" fill="none" stroke="#444" stroke-width="1"/>
<line x1="678.5" y1="393.5" x2="678.5" y2="401.7" stroke="#777" stroke-width="1"/>
<path d="M631.3,393 L631.3,365.5 Q631.3,364.1 632.8,364.1 L636.3,364.1 L636.3,366.8 L637.8,367 L638.3,365 L640.3,364.5 L649.8,364.1 L649.8,366" fill="none" stroke="#151515" stroke-width="1"/>
<polyline points="649.8,366 638.9,377.5 638.9,381.4 632.3,381.4 632.3,386 631.3,386" fill="none" stroke="#151515" stroke-width="1"/>
<line x1="631.3" y1="393.5" x2="678.3" y2="393.5" stroke="#151515" stroke-width="1.3"/>
<polyline points="644.8,393 644.8,385 668.3,385 668.3,364.1" fill="none" stroke="#151515" stroke-width="1"/>
<line x1="649.8" y1="364.5" x2="668.3" y2="364.5" stroke="#151515" stroke-width="1"/>
<line x1="646.3" y1="386.5" x2="660.3" y2="386.5" stroke="#9a9a9a" stroke-width="1"/>
<line x1="660.5" y1="385" x2="660.5" y2="393" stroke="#151515" stroke-width="0.9"/>
<line x1="640.5" y1="393" x2="640.5" y2="390" stroke="#151515" stroke-width="0.8"/>
<line x1="640.3" y1="390.5" x2="645.3" y2="390.5" stroke="#151515" stroke-width="0.8"/>
<path d="M668,369 Q666.5,376 668,378 Q670,383 678,384" fill="none" stroke="#151515" stroke-width="0.9"/>
<rect x="669.5" y="361.5" width="9.0" height="5.0" fill="none" stroke="#151515" stroke-width="0.9"/>
<line x1="669.4" y1="364.5" x2="678.4" y2="364.5" stroke="#9a9a9a" stroke-width="1"/>
<polyline points="679,361.5 689,361.5 689,370" fill="none" stroke="#151515" stroke-width="0.9"/>
<polyline points="681,362 688,366 681,370" fill="none" stroke="#151515" stroke-width="0.8"/>
<path d="M679.3,370.9 L713,370.9 Q716,370.9 716,374 L716,388.5 Q716,391.3 713,391.3 L687,391.3 L679.3,385" fill="none" stroke="#151515" stroke-width="1"/>
<path d="M680,374 L694,376.3 Q697,377.2 697,378.7 Q697,380.3 694,380.3 L685,380 L680,379" fill="none" stroke="#151515" stroke-width="0.9"/>
<line x1="678.5" y1="361.5" x2="678.5" y2="393" stroke="#151515" stroke-width="1"/>
<path d="M716,376.4 L736.5,376.4 Q738,378 737.2,379.5 Q737,380.8 737.5,381.9 L716,381.9" fill="none" stroke="#151515" stroke-width="1"/>
<rect x="621.5" y="390.5" width="5.0" height="3.0" fill="none" stroke="#9a9a9a" stroke-width="0.8"/>
<line x1="604.9" y1="333.5" x2="715.8" y2="333.5" stroke="#151515" stroke-width="1"/>
<line x1="625.5" y1="334" x2="625.5" y2="392.8" stroke="#151515" stroke-width="1"/>
<line x1="630.5" y1="334" x2="630.5" y2="363" stroke="#151515" stroke-width="1"/>
<line x1="715.5" y1="334" x2="715.5" y2="370.1" stroke="#151515" stroke-width="1"/>
<line x1="630.7" y1="348.5" x2="678.1" y2="348.5" stroke="#151515" stroke-width="1"/>
<line x1="678.5" y1="346" x2="678.5" y2="393" stroke="#151515" stroke-width="1"/>
<line x1="610.5" y1="363.5" x2="610.5" y2="393.9" stroke="#333" stroke-width="0.9"/>
<line x1="605" y1="363.5" x2="630.5" y2="363.5" stroke="#151515" stroke-width="1"/>
<line x1="605" y1="393.5" x2="625" y2="393.5" stroke="#151515" stroke-width="1"/>
<line x1="752.5" y1="361.2" x2="752.5" y2="392.8" stroke="#333" stroke-width="0.9"/>
<line x1="689" y1="360.5" x2="754" y2="360.5" stroke="#151515" stroke-width="1"/>
<line x1="678" y1="392.5" x2="754" y2="392.5" stroke="#151515" stroke-width="1"/>
<text x="605.6" y="332.2" font-size="8.0" textLength="16.5" lengthAdjust="spacingAndGlyphs" fill="#000">(1.1)</text>
<text x="662" y="332.2" font-size="8.0" textLength="21.8" lengthAdjust="spacingAndGlyphs" fill="#000">(16.2)</text>
<text x="648.3" y="346.6" font-size="8.0" textLength="11.5" lengthAdjust="spacingAndGlyphs" fill="#000">8.9</text>
<text x="606.6" y="384" font-size="8.0" textLength="11" lengthAdjust="spacingAndGlyphs" transform="rotate(-90 606.6 384)" fill="#000">5.7</text>
<text x="747" y="386" font-size="8.0" textLength="18" lengthAdjust="spacingAndGlyphs" transform="rotate(-90 747 386)" fill="#000">(6.2)</text>
<path d="M48.3,641 L32.0,641 Q30.0,643 31.0,645.5 Q30.0,648.5 32.0,650.5 L48.3,650.5" fill="none" stroke="#151515" stroke-width="1"/>
<path d="M31.5,642.5 Q33.5,644.5 32.0,647" fill="none" stroke="#151515" stroke-width="0.8"/>
<polyline points="39.5,660.8 60.0,660.8" fill="none" stroke="#151515" stroke-width="1"/>
<path d="M48.3,634.5 L48.3,660.8" fill="none" stroke="#151515" stroke-width="1"/>
<path d="M48.3,634.5 L60.0,634.5 L60.0,628 Q60.0,625.7 62.5,625.7 L146,625.7" fill="none" stroke="#151515" stroke-width="1"/>
<line x1="60.0" y1="633.5" x2="84.2" y2="633.5" stroke="#151515" stroke-width="0.9"/>
<path d="M60.0,660.8 L60.0,657.7 L84.2,657.7" fill="none" stroke="#151515" stroke-width="0.9"/>
<line x1="60.0" y1="663.5" x2="146" y2="663.5" stroke="#151515" stroke-width="1"/>
<line x1="60.5" y1="660.8" x2="60.5" y2="663.8" stroke="#151515" stroke-width="1"/>
<line x1="84.2" y1="633.6" x2="119.5" y2="633.6" stroke="#151515" stroke-width="1.4"/>
<line x1="84.2" y1="657" x2="119.5" y2="657" stroke="#151515" stroke-width="1.4"/>
<line x1="84.5" y1="625.7" x2="84.5" y2="663.8" stroke="#9a9a9a" stroke-width="1.1"/>
<line x1="84.5" y1="633.6" x2="84.5" y2="657" stroke="#151515" stroke-width="0.9"/>
<line x1="90.5" y1="633.6" x2="90.5" y2="657" stroke="#333" stroke-width="1"/>
<line x1="94.5" y1="633.6" x2="94.5" y2="657" stroke="#151515" stroke-width="1"/>
<line x1="101.5" y1="633.6" x2="101.5" y2="657" stroke="#555" stroke-width="1"/>
<line x1="105.5" y1="633.6" x2="105.5" y2="657" stroke="#151515" stroke-width="1"/>
<path d="M39.5,648.5 L39.5,665.5 Q39.5,667.6 41.5,667.6 L79.5,667.3" fill="none" stroke="#151515" stroke-width="1"/>
<path d="M41.5,667 L76.5,664.5" fill="none" stroke="#9a9a9a" stroke-width="1"/>
<line x1="80" y1="633.5" x2="146.6" y2="633.5" stroke="#151515" stroke-width="0.9"/>
<line x1="80" y1="656.5" x2="146.6" y2="656.5" stroke="#151515" stroke-width="0.9"/>
<path d="M146.6,625.7 L146.6,656.6" fill="none" stroke="#151515" stroke-width="1"/>
<path d="M121.4,623.7 L147.3,623.7 L170.3,620.8 L170.3,641.7" fill="none" stroke="#151515" stroke-width="1"/>
<line x1="147" y1="628.5" x2="166" y2="628.5" stroke="#151515" stroke-width="0.9"/>
<line x1="156.7" y1="623" x2="162.4" y2="628.5" stroke="#151515" stroke-width="0.8"/>
<line x1="167.5" y1="620.8" x2="167.5" y2="642" stroke="#9a9a9a" stroke-width="1"/>
<rect x="146.5" y="628.5" width="21.0" height="14.0" fill="none" stroke="#151515" stroke-width="1"/>
<line x1="147" y1="631.5" x2="167" y2="631.5" stroke="#9a9a9a" stroke-width="1.1"/>
<path d="M146.6,642.7 L171,642.7 Q173.9,643.5 173.9,646 L173.9,663.2 L60,663.2" fill="none" stroke="#151515" stroke-width="1"/>
<line x1="39.5" y1="667.5" x2="227" y2="667.5" stroke="#151515" stroke-width="1"/>
<line x1="39.5" y1="595.5" x2="39.5" y2="649" stroke="#151515" stroke-width="1"/>
<line x1="174.5" y1="595.5" x2="174.5" y2="643.8" stroke="#151515" stroke-width="1"/>
<line x1="39" y1="595.5" x2="175" y2="595.5" stroke="#151515" stroke-width="1"/>
<line x1="174.6" y1="620.5" x2="227.8" y2="620.5" stroke="#151515" stroke-width="1"/>
<line x1="218.5" y1="620.3" x2="218.5" y2="667.5" stroke="#333" stroke-width="0.9"/>
<path d="M174.6,639.5 L201.5,639.5 Q203.5,642 202.5,644 Q201.5,646 202.7,648.1 L174.6,648.1" fill="none" stroke="#151515" stroke-width="1"/>
<text x="62.2" y="591.2" font-size="8.6" textLength="90.7" lengthAdjust="spacingAndGlyphs" fill="#000">(21.5) retainer included</text>
<text x="215.6" y="642.5" font-size="8.6" text-anchor="middle" textLength="17" lengthAdjust="spacingAndGlyphs" transform="rotate(-90 215.6 642.5)" fill="#000">(8.4)</text>
<text x="227.8" y="643" font-size="8.6" text-anchor="middle" textLength="49" lengthAdjust="spacingAndGlyphs" transform="rotate(-90 227.8 643)" fill="#000">retainer included</text>
<path d="M280.3,641 L264.0,641 Q262.0,643 263.0,645.5 Q262.0,648.5 264.0,650.5 L280.3,650.5" fill="none" stroke="#151515" stroke-width="1"/>
<path d="M263.5,642.5 Q265.5,644.5 264.0,647" fill="none" stroke="#151515" stroke-width="0.8"/>
<polyline points="271.5,660.8 292.0,660.8" fill="none" stroke="#151515" stroke-width="1"/>
<path d="M280.3,634.5 L280.3,660.8" fill="none" stroke="#151515" stroke-width="1"/>
<path d="M280.3,634.5 L292.0,634.5 L292.0,628 Q292.0,625.7 294.5,625.7 L378.8,625.7" fill="none" stroke="#151515" stroke-width="1"/>
<line x1="292.0" y1="633.5" x2="316.2" y2="633.5" stroke="#151515" stroke-width="0.9"/>
<path d="M292.0,660.8 L292.0,657.7 L316.2,657.7" fill="none" stroke="#151515" stroke-width="0.9"/>
<line x1="292.0" y1="663.5" x2="378.8" y2="663.5" stroke="#151515" stroke-width="1"/>
<line x1="292.5" y1="660.8" x2="292.5" y2="663.8" stroke="#151515" stroke-width="1"/>
<line x1="316.2" y1="633.6" x2="351.5" y2="633.6" stroke="#151515" stroke-width="1.4"/>
<line x1="316.2" y1="657" x2="351.5" y2="657" stroke="#151515" stroke-width="1.4"/>
<line x1="316.5" y1="625.7" x2="316.5" y2="663.8" stroke="#9a9a9a" stroke-width="1.1"/>
<line x1="316.5" y1="633.6" x2="316.5" y2="657" stroke="#151515" stroke-width="0.9"/>
<line x1="322.5" y1="633.6" x2="322.5" y2="657" stroke="#333" stroke-width="1"/>
<line x1="326.5" y1="633.6" x2="326.5" y2="657" stroke="#151515" stroke-width="1"/>
<line x1="333.5" y1="633.6" x2="333.5" y2="657" stroke="#555" stroke-width="1"/>
<line x1="337.5" y1="633.6" x2="337.5" y2="657" stroke="#151515" stroke-width="1"/>
<path d="M271.5,648.5 L271.5,665.5 Q271.5,667.6 273.5,667.6 L311.5,667.3" fill="none" stroke="#151515" stroke-width="1"/>
<path d="M273.5,667 L308.5,664.5" fill="none" stroke="#9a9a9a" stroke-width="1"/>
<line x1="312" y1="633.5" x2="378.8" y2="633.5" stroke="#151515" stroke-width="0.9"/>
<line x1="312" y1="657.5" x2="378.8" y2="657.5" stroke="#151515" stroke-width="0.9"/>
<line x1="378.5" y1="641.6" x2="378.5" y2="656.5" stroke="#151515" stroke-width="1"/>
<line x1="360" y1="620.5" x2="378.8" y2="620.5" stroke="#151515" stroke-width="1"/>
<line x1="363.1" y1="625" x2="378.8" y2="620" stroke="#151515" stroke-width="0.8"/>
<path d="M352.8,625.7 L352.8,621.5 Q352.8,619.4 355,619.4 L378.8,619.4" fill="none" stroke="#151515" stroke-width="1"/>
<path d="M378.8,625.7 L378.8,616.5 Q379.5,612.2 383,612.2 L392.9,612.2 L424.3,621.2" fill="none" stroke="#151515" stroke-width="1"/>
<polyline points="403.9,612.2 421.2,612.2 421.2,620" fill="none" stroke="#151515" stroke-width="0.9"/>
<path d="M391.4,623.5 L430.6,622 Q433.7,622.3 433.7,624.3 L433.7,638.4" fill="none" stroke="#151515" stroke-width="1"/>
<line x1="378.8" y1="629" x2="421.2" y2="629" stroke="#9a9a9a" stroke-width="1.4"/>
<line x1="378.8" y1="625.5" x2="391.4" y2="625.5" stroke="#151515" stroke-width="0.8"/>
<line x1="420.5" y1="629" x2="420.5" y2="658" stroke="#151515" stroke-width="1"/>
<line x1="424.5" y1="629" x2="424.5" y2="658" stroke="#9a9a9a" stroke-width="1.2"/>
<line x1="420.4" y1="658.5" x2="424.3" y2="658.5" stroke="#151515" stroke-width="1"/>
<path d="M378.8,641.6 L403.9,641.6 Q406.3,642.5 406.3,645.5 L406.3,663.5 L292.4,663.5" fill="none" stroke="#151515" stroke-width="1"/>
<line x1="271.5" y1="667.5" x2="465.9" y2="667.5" stroke="#151515" stroke-width="1"/>
<line x1="271.5" y1="595.5" x2="271.5" y2="648.1" stroke="#151515" stroke-width="1"/>
<line x1="434.5" y1="595.5" x2="434.5" y2="624.3" stroke="#151515" stroke-width="1"/>
<line x1="271" y1="595.5" x2="435" y2="595.5" stroke="#151515" stroke-width="1"/>
<line x1="424.3" y1="612.5" x2="465.9" y2="612.5" stroke="#151515" stroke-width="1"/>
<line x1="462.5" y1="612.3" x2="462.5" y2="667.5" stroke="#333" stroke-width="0.9"/>
<path d="M425.1,638.4 L445,638.4 Q447,641 446,643 Q445.2,645 446.3,647.1 L425.1,647.1" fill="none" stroke="#151515" stroke-width="1"/>
<text x="308.8" y="591.2" font-size="8.6" textLength="89.9" lengthAdjust="spacingAndGlyphs" fill="#000">(25.8) retainer included</text>
<text x="458.9" y="640" font-size="8.6" text-anchor="middle" textLength="15.6" lengthAdjust="spacingAndGlyphs" transform="rotate(-90 458.9 640)" fill="#000">(8.9)</text>
<text x="472.4" y="640.4" font-size="8.6" text-anchor="middle" textLength="52.6" lengthAdjust="spacingAndGlyphs" transform="rotate(-90 472.4 640.4)" fill="#000">retainer included</text>
<path d="M533.1999999999999,641 L516.9,641 Q514.9,643 515.9,645.5 Q514.9,648.5 516.9,650.5 L533.1999999999999,650.5" fill="none" stroke="#151515" stroke-width="1"/>
<path d="M516.4,642.5 Q518.4,644.5 516.9,647" fill="none" stroke="#151515" stroke-width="0.8"/>
<polyline points="524.4,660.8 544.9,660.8" fill="none" stroke="#151515" stroke-width="1"/>
<path d="M533.1999999999999,634.5 L533.1999999999999,660.8" fill="none" stroke="#151515" stroke-width="1"/>
<path d="M533.1999999999999,634.5 L544.9,634.5 L544.9,628 Q544.9,625.7 547.4,625.7 L630.3,625.7" fill="none" stroke="#151515" stroke-width="1"/>
<line x1="544.9" y1="633.5" x2="569.1" y2="633.5" stroke="#151515" stroke-width="0.9"/>
<path d="M544.9,660.8 L544.9,657.7 L569.1,657.7" fill="none" stroke="#151515" stroke-width="0.9"/>
<line x1="544.9" y1="663.5" x2="630.3" y2="663.5" stroke="#151515" stroke-width="1"/>
<line x1="544.5" y1="660.8" x2="544.5" y2="663.8" stroke="#151515" stroke-width="1"/>
<line x1="569.1" y1="633.6" x2="604.4" y2="633.6" stroke="#151515" stroke-width="1.4"/>
<line x1="569.1" y1="657" x2="604.4" y2="657" stroke="#151515" stroke-width="1.4"/>
<line x1="569.5" y1="625.7" x2="569.5" y2="663.8" stroke="#9a9a9a" stroke-width="1.1"/>
<line x1="568.5" y1="633.6" x2="568.5" y2="657" stroke="#151515" stroke-width="0.9"/>
<line x1="575.5" y1="633.6" x2="575.5" y2="657" stroke="#333" stroke-width="1"/>
<line x1="579.5" y1="633.6" x2="579.5" y2="657" stroke="#151515" stroke-width="1"/>
<line x1="586.5" y1="633.6" x2="586.5" y2="657" stroke="#555" stroke-width="1"/>
<line x1="590.5" y1="633.6" x2="590.5" y2="657" stroke="#151515" stroke-width="1"/>
<path d="M524.4,648.5 L524.4,665.5 Q524.4,667.6 526.4,667.6 L564.4,667.3" fill="none" stroke="#151515" stroke-width="1"/>
<path d="M526.4,667 L561.4,664.5" fill="none" stroke="#9a9a9a" stroke-width="1"/>
<line x1="603.6" y1="634.5" x2="630.3" y2="634.5" stroke="#9a9a9a" stroke-width="1.1"/>
<line x1="603.6" y1="657.5" x2="630.3" y2="657.5" stroke="#9a9a9a" stroke-width="1.1"/>
<line x1="630.5" y1="625.6" x2="630.5" y2="657.5" stroke="#151515" stroke-width="1"/>
<line x1="606.2" y1="624.5" x2="629.7" y2="624.5" stroke="#666" stroke-width="1.2"/>
<path d="M630.3,625 L630.3,623.5 Q630.3,621.4 633,621.4 L652.5,621.4 Q655.4,621.4 655.4,625 L655.4,631.9" fill="none" stroke="#151515" stroke-width="0.9"/>
<polyline points="640,621.5 652,631 655,626" fill="none" stroke="#151515" stroke-width="0.8"/>
<polyline points="640,631.5 651,622" fill="none" stroke="#151515" stroke-width="0.8"/>
<path d="M631,631 Q633,628.5 640.2,628.5 L640.2,631.9 L686.4,631.9 Q687.5,632.4 687.5,635 L687.5,656 Q687.5,658.2 685,658.2 L658.8,658.2" fill="none" stroke="#151515" stroke-width="1"/>
<path d="M631.3,636 L661,639.5 Q663.8,640.5 663.8,642.5 Q663.8,643.9 661,643.9 L645,643 L630.8,642.3" fill="none" stroke="#151515" stroke-width="0.9"/>
<path d="M656.9,644.4 Q658.5,645 658.5,647 L658.5,663.8 L545,663.8" fill="none" stroke="#666" stroke-width="1.1"/>
<line x1="529.9" y1="669.5" x2="721.3" y2="669.5" stroke="#151515" stroke-width="1"/>
<line x1="524.5" y1="596" x2="524.5" y2="648.6" stroke="#151515" stroke-width="1"/>
<line x1="686.5" y1="596" x2="686.5" y2="632.4" stroke="#151515" stroke-width="1"/>
<line x1="524" y1="596.5" x2="686.5" y2="596.5" stroke="#151515" stroke-width="1"/>
<line x1="655.9" y1="620.5" x2="721.3" y2="620.5" stroke="#151515" stroke-width="1"/>
<line x1="716.5" y1="620.5" x2="716.5" y2="669.3" stroke="#333" stroke-width="0.9"/>
<path d="M687.5,640.3 L699.5,640.3 Q701,642 700,643 Q699.5,644.5 700.5,646 L687.5,646" fill="none" stroke="#151515" stroke-width="1"/>
<text x="564.1" y="592.5" font-size="8.6" textLength="83" lengthAdjust="spacingAndGlyphs" fill="#000">(26) retainer included</text>
<text x="714.1" y="643.9" font-size="8.6" text-anchor="middle" textLength="15.8" lengthAdjust="spacingAndGlyphs" transform="rotate(-90 714.1 643.9)" fill="#000">(7.6)</text>
<text x="725.8" y="643.5" font-size="8.6" text-anchor="middle" textLength="46.8" lengthAdjust="spacingAndGlyphs" transform="rotate(-90 725.8 643.5)" fill="#000">retainer included</text>
<text x="389" y="231.0" font-size="10.3" text-anchor="middle" fill="#000">PA Receptacle</text>
<text x="389" y="242.8" font-size="10.3" text-anchor="middle" fill="#000">(Standard type)</text>
<text x="389" y="256.2" font-size="10.3" text-anchor="middle" fill="#000">+</text>
<text x="389" y="266.6" font-size="10.3" text-anchor="middle" fill="#000">PA Header</text>
<text x="537" y="231.1" font-size="10.3" text-anchor="middle" fill="#000">PA Receptacle</text>
<text x="537" y="242.9" font-size="10.3" text-anchor="middle" fill="#000">(Retainer mountable type)</text>
<text x="537" y="256.2" font-size="10.3" text-anchor="middle" fill="#000">+</text>
<text x="537" y="266.7" font-size="10.3" text-anchor="middle" fill="#000">PA Header</text>
<text x="681" y="230.9" font-size="10.3" text-anchor="middle" fill="#000">PAF Receptacle</text>
<text x="681" y="244.4" font-size="10.3" text-anchor="middle" fill="#000">+</text>
<text x="681" y="254.5" font-size="10.3" text-anchor="middle" fill="#000">PA Header</text>
<text x="311.5" y="435.9" font-size="10.3" text-anchor="middle" fill="#000">PA Receptacle</text>
<text x="311.5" y="447.8" font-size="10.3" text-anchor="middle" fill="#000">(Standard type)</text>
<text x="311.5" y="460.3" font-size="10.3" text-anchor="middle" fill="#000">+</text>
<text x="311.5" y="470.4" font-size="10.3" text-anchor="middle" fill="#000">PA side entry type header</text>
<text x="483.5" y="435.9" font-size="10.3" text-anchor="middle" fill="#000">PA Receptacle</text>
<text x="483.5" y="447.8" font-size="10.3" text-anchor="middle" fill="#000">(Retainer mountable type)</text>
<text x="483.5" y="460.3" font-size="10.3" text-anchor="middle" fill="#000">+</text>
<text x="483.5" y="470.4" font-size="10.3" text-anchor="middle" fill="#000">PA side entry type header</text>
<text x="669" y="435.9" font-size="10.3" text-anchor="middle" fill="#000">PAF Receptacle</text>
<text x="669" y="449.4" font-size="10.3" text-anchor="middle" fill="#000">+</text>
<text x="669" y="459.7" font-size="10.3" text-anchor="middle" fill="#000">PA side entry type header</text>
<text x="128.5" y="695.2" font-size="10.3" text-anchor="middle" fill="#000">PA Receptacle</text>
<text x="128.5" y="707.2" font-size="10.3" text-anchor="middle" fill="#000">(Standard type)</text>
<text x="128.5" y="720.3" font-size="10.3" text-anchor="middle" fill="#000">+</text>
<text x="128.5" y="729.5" font-size="10.3" text-anchor="middle" fill="#000">PAL Receptacle</text>
<text x="354.5" y="695.3" font-size="10.3" text-anchor="middle" fill="#000">PA Receptacle</text>
<text x="354.5" y="707.1" font-size="10.3" text-anchor="middle" fill="#000">(Retainer mountable type)</text>
<text x="354.5" y="720.3" font-size="10.3" text-anchor="middle" fill="#000">+</text>
<text x="354.5" y="729.6" font-size="10.3" text-anchor="middle" fill="#000">PAL Receptacle</text>
<text x="606" y="695.3" font-size="10.3" text-anchor="middle" fill="#000">PAF Receptacle</text>
<text x="606" y="708.2" font-size="10.3" text-anchor="middle" fill="#000">+</text>
<text x="606" y="719.0" font-size="10.3" text-anchor="middle" fill="#000">PAL Receptacle</text>
<text x="11.5" y="502.8" font-size="10.3" textLength="370.5" lengthAdjust="spacingAndGlyphs" font-style="italic" fill="#000">Note: 1. The above figure is the figure viewed from the connector mounting side.</text>
<text x="38.5" y="515.1" font-size="10.3" textLength="273.3" lengthAdjust="spacingAndGlyphs" font-style="italic" fill="#000">2. Tolerances are non-cumulative: ±0.05mm for all centers.</text>
<text x="38.5" y="527.4" font-size="10.3" textLength="360.5" lengthAdjust="spacingAndGlyphs" font-style="italic" fill="#000">3. The dimensions above should serve as a guideline. Contact JST for details.</text>
</svg>
</body></html>
